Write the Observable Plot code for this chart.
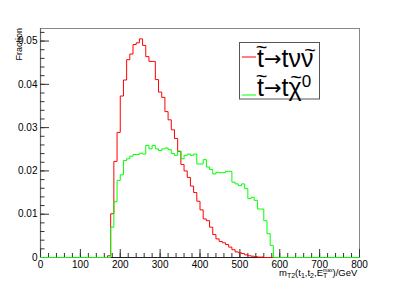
<!DOCTYPE html>
<html><head><meta charset="utf-8">
<script src="https://cdn.jsdelivr.net/npm/d3@7"></script>
<script src="https://cdn.jsdelivr.net/npm/@observablehq/plot@0.6"></script>
<style>
html,body{margin:0;padding:0;background:#fff;}
#chart{width:399px;height:286px;}
</style>
</head><body><div id="chart"></div>
<script>
// Histogram definition (8 GeV bins from 0 to 800 GeV)
const binWidth = 8;
const xRange = [0, 800];
// stop -> t nu nu~ (red), first non-empty bin starts at 168 GeV
const redStart = 168;
const redValues = [0.0004, 0.0101, 0.0222, 0.0289, 0.0373, 0.0410, 0.0457, 0.0470, 0.0492, 0.0496,
  0.0505, 0.0490, 0.0464, 0.0453, 0.0453, 0.0411, 0.0382, 0.0370, 0.0337, 0.0318,
  0.0295, 0.0275, 0.0245, 0.0215, 0.0200, 0.0185, 0.0165, 0.0150, 0.0130, 0.0110,
  0.0089, 0.0085, 0.0070, 0.0053, 0.0043, 0.0037, 0.0034, 0.0030, 0.0024, 0.0018,
  0.0013, 0.0011, 0.0009, 0.0006, 0.0004, 0.0003, 0.0002, 0.0001, 0.0001];
// stop -> t chi0 (green), first non-empty bin starts at 176 GeV
const greenStart = 176;
const greenValues = [0.0070, 0.0129, 0.0178, 0.0191, 0.0224, 0.0228, 0.0234, 0.0238, 0.0238, 0.0241,
  0.0239, 0.0259, 0.0251, 0.0259, 0.0251, 0.0247, 0.0251, 0.0253, 0.0249, 0.0240,
  0.0236, 0.0246, 0.0228, 0.0236, 0.0239, 0.0236, 0.0239, 0.0216, 0.0216, 0.0226,
  0.0209, 0.0203, 0.0193, 0.0197, 0.0196, 0.0196, 0.0199, 0.0199, 0.0174, 0.0170,
  0.0166, 0.0170, 0.0159, 0.0136, 0.0139, 0.0132, 0.0112, 0.0112, 0.0085, 0.0055, 0.0028];
const xTicks = [0, 100, 200, 300, 400, 500, 600, 700, 800];
const xMinorTicks = d3.range(0, 801, 20);
const yTicks = [0, 0.01, 0.02, 0.03, 0.04, 0.05];
const yMinorTicks = d3.range(0, 0.0521, 0.002);
const yMax = 0.0529;
// legend labels: [letters before arrow, letters after arrow, superscript]
const seriesParts = [["t", "t\u03BD\u03BD", ""], ["t", "t\u03C7", "0"]];
const seriesColors = ["#ff0000", "#00ff00"];

function steps(start, values) {
  const n = (xRange[1] - xRange[0]) / binWidth;
  const first = (start - xRange[0]) / binWidth;
  const pts = [];
  for (let i = 0; i < n; i++) {
    const k = i - first;
    const v = (k >= 0 && k < values.length) ? values[k] : 0;
    pts.push({x: xRange[0] + i * binWidth, y: v});
  }
  pts.push({x: xRange[1], y: pts[pts.length - 1].y});
  return pts;
}
const redSteps = steps(redStart, redValues);
const greenSteps = steps(greenStart, greenValues);

const W = 399, H = 286, mL = 40, mR = 40, mT = 28, mB = 29;
const fw = W - mL - mR, fh = H - mT - mB;
const font = "'Liberation Sans', Arial, Helvetica, sans-serif";

const plot = Plot.plot({
  width: W, height: H,
  marginLeft: mL, marginRight: mR, marginTop: mT, marginBottom: mB,
  style: {fontFamily: font, fontSize: "10px", background: "white", color: "#000"},
  x: {domain: xRange},
  y: {domain: [0, yMax]},
  marks: [
    Plot.frame({stroke: "#888"}),
    Plot.ruleX([0], {stroke: "#666", strokeWidth: 1.2}),
    Plot.ruleX(xMinorTicks, {stroke: "#333", insetTop: fh - 4}),
    Plot.ruleX(xTicks, {stroke: "#333", insetTop: fh - 8}),
    Plot.ruleY(yMinorTicks, {stroke: "#333", insetRight: fw - 4.5}),
    Plot.ruleY(yTicks, {stroke: "#333", insetRight: fw - 9}),
    Plot.ruleY([0], {stroke: "#222"}),
    Plot.line(redSteps, {x: "x", y: "y", curve: "step-after", stroke: seriesColors[0], strokeWidth: 1}),
    Plot.line(greenSteps, {x: "x", y: "y", curve: "step-after", stroke: seriesColors[1], strokeWidth: 1}),
    Plot.axisX({ticks: xTicks, tickSize: 0, tickPadding: 3.5, label: null, tickFormat: d => String(d)}),
    Plot.axisY({ticks: yTicks, tickSize: 0, tickPadding: 3, label: null, tickFormat: d => d === 0 ? "0" : d.toFixed(2)})
  ]
});
document.getElementById("chart").appendChild(plot);

const svg = d3.select(plot);
// Y title
svg.append("text")
  .attr("transform", "translate(22,28) rotate(-90)")
  .attr("text-anchor", "end")
  .attr("font-family", font).attr("font-size", 9).attr("fill", "#000")
  .text("Fraction");

// X title with sub/superscripts
const xt = svg.append("text").attr("x", 279).attr("y", 276).attr("text-anchor", "start")
  .attr("font-family", font).attr("font-size", 9.5).attr("fill", "#000");
xt.append("tspan").text("m");
xt.append("tspan").attr("font-size", 7).attr("dy", 2).text("T2");
xt.append("tspan").attr("dy", -2).text("(t");
xt.append("tspan").attr("font-size", 7).attr("dy", 2).text("1");
xt.append("tspan").attr("dy", -2).text(",t");
xt.append("tspan").attr("font-size", 7).attr("dy", 2).text("2");
xt.append("tspan").attr("dy", -2).text(",E");
xt.append("tspan").attr("font-size", 7).attr("dy", 2).text("T");
xt.append("tspan").attr("font-size", 5).attr("dy", -6).attr("dx", -4.2).text("max");
xt.append("tspan").attr("dy", 4).text(")/GeV");

// Legend
const lg = svg.append("g");
lg.append("rect").attr("x", 239.5).attr("y", 42.5).attr("width", 80).attr("height", 56.5)
  .attr("fill", "white").attr("stroke", "#555");
const lineY = [57, 95];
const baseY = [67, 96];
const tildes = [[[261.5, 54], [310, 56.5]], [[261.5, 83], [296, 84]]];
seriesParts.forEach((p, i) => {
  lg.append("line").attr("x1", 242).attr("x2", 256).attr("y1", lineY[i]).attr("y2", lineY[i])
    .attr("stroke", seriesColors[i]).attr("stroke-width", 1);
  const t = lg.append("text").attr("x", 257).attr("y", baseY[i]).attr("text-anchor", "start")
    .attr("font-family", font).attr("font-size", 25).attr("fill", "#000");
  t.append("tspan").text(p[0]);
  t.append("tspan").attr("font-family", "'DejaVu Sans'").attr("font-size", 21).attr("dy", -1).text("\u2192");
  t.append("tspan").attr("dy", 1).text(p[1]);
  if (p[2]) t.append("tspan").attr("font-size", 17).attr("dy", -9).text(p[2]);
  tildes[i].forEach(([cx, by]) => {
    lg.append("text").attr("x", cx).attr("y", by).attr("text-anchor", "middle")
      .attr("font-family", font).attr("font-size", 20).attr("fill", "#000").text("~");
  });
});
</script>
</body></html>
